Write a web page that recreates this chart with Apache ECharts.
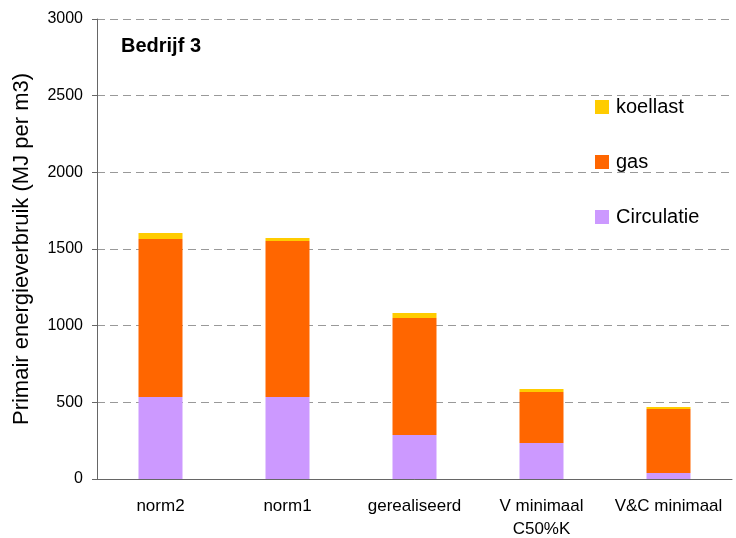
<!DOCTYPE html>
<html>
<head>
<meta charset="utf-8">
<script src="https://cdn.jsdelivr.net/npm/echarts@6/dist/echarts.min.js"></script>
<style>
  html, body { margin: 0; padding: 0; background: #fff; }
  #chart { width: 736px; height: 538px; }
</style>
</head>
<body>
<div id="chart"></div>
<script>
const categories = ['norm2', 'norm1', 'gerealiseerd', 'V minimaal\nC50%K', 'V&C minimaal']
const circulatie = [535, 535, 287, 235, 39]
const gas = [1030, 1017, 763, 332, 418]
const koellast = [39, 20, 33, 20, 13]

const font = 'Liberation Sans, Arial, sans-serif'
const chart = echarts.init(document.getElementById('chart'))

chart.setOption({
  animation: false,
  title: {
    text: 'Bedrijf 3',
    left: 116,
    top: 31,
    textStyle: { fontFamily: font, fontSize: 20, fontWeight: 'bold', color: '#000' },
  },
  legend: {
    orient: 'vertical',
    left: 590,
    top: 92,
    itemWidth: 14,
    itemHeight: 14,
    itemGap: 35,
    icon: 'rect',
    data: ['koellast', 'gas', 'Circulatie'],
    textStyle: { fontFamily: font, fontSize: 20, color: '#000', padding: [0, 0, 0, 2] },
  },
  grid: { left: 97, right: 4, top: 19, bottom: 59, outerBoundsMode: 'none' },
  xAxis: {
    type: 'category',
    data: categories,
    axisLine: { lineStyle: { color: '#666' } },
    axisTick: { length: 5, lineStyle: { color: '#666' } },
    axisLabel: { interval: 0, fontFamily: font, fontSize: 17, color: '#000', margin: 16, lineHeight: 23 },
  },
  yAxis: {
    type: 'value',
    min: 0,
    max: 3000,
    interval: 500,
    name: 'Primair energieverbruik (MJ per m3)',
    nameLocation: 'middle',
    nameGap: 64,
    nameTextStyle: { fontFamily: font, fontSize: 22, color: '#000' },
    axisLine: { show: true, lineStyle: { color: '#666' } },
    axisTick: { show: true, length: 5, lineStyle: { color: '#666' } },
    axisLabel: { fontFamily: font, fontSize: 16, color: '#000', margin: 14, formatter: v => String(v) },
    splitLine: { lineStyle: { type: [8, 5], color: '#999' } },
  },
  series: [
    {
      name: 'Circulatie', type: 'bar', stack: 'total', barWidth: 44,
      itemStyle: { color: '#CC99FF' }, data: circulatie,
    },
    {
      name: 'gas', type: 'bar', stack: 'total', barWidth: 44,
      itemStyle: { color: '#FF6600' }, data: gas,
    },
    {
      name: 'koellast', type: 'bar', stack: 'total', barWidth: 44,
      itemStyle: { color: '#FFCC00' }, data: koellast,
    },
  ],
})
</script>
</body>
</html>
